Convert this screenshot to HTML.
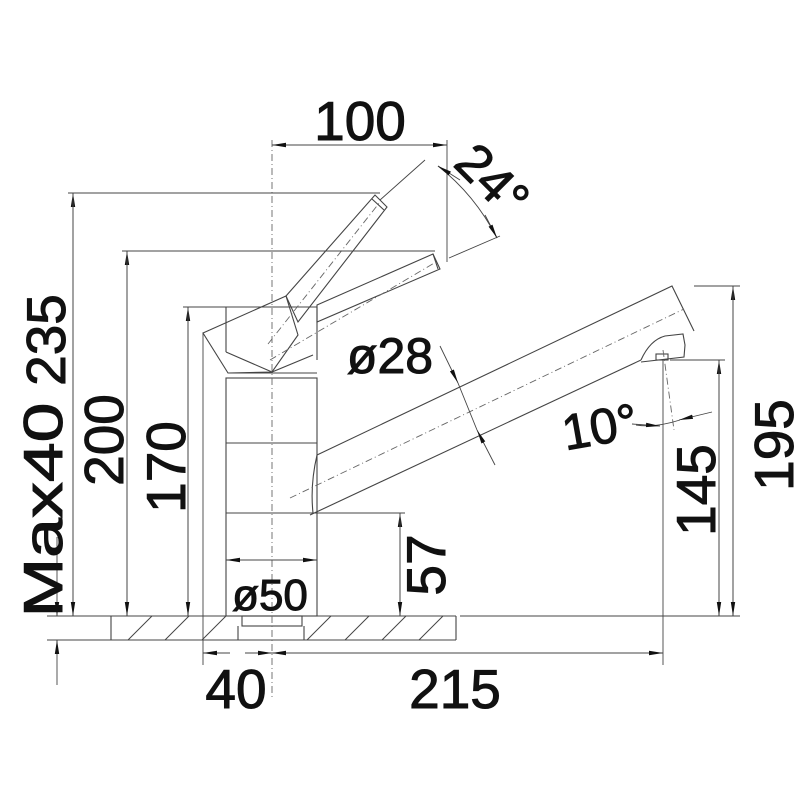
<!DOCTYPE html>
<html><head><meta charset="utf-8"><style>
html,body{margin:0;padding:0;background:#fff;width:800px;height:800px;overflow:hidden}
text{font-family:"Liberation Sans",sans-serif;fill:#111}
</style></head><body>
<svg width="800" height="800" viewBox="0 0 800 800" xmlns="http://www.w3.org/2000/svg">
<defs>
<marker id="a" markerWidth="14" markerHeight="6" refX="14" refY="3" orient="auto" markerUnits="userSpaceOnUse"><path d="M0,0.8 L14,3 L0,5.2 Z" fill="#111"/></marker>
</defs>
<g stroke="#444" stroke-width="1.1" fill="none">
<line x1="47" y1="616" x2="456" y2="616"/>
<line x1="460" y1="616" x2="740" y2="616"/>
<line x1="47" y1="640" x2="456" y2="640"/>
<line x1="456" y1="616" x2="456" y2="640"/>
<line x1="111" y1="616" x2="111" y2="640"/>
<line x1="238" y1="626" x2="238" y2="640"/>
<line x1="304" y1="626" x2="304" y2="640"/>
<rect x="242" y="616" width="60" height="10"/>
<g stroke-width="1">
<line x1="128" y1="640" x2="152" y2="616"/><line x1="165" y1="640" x2="189" y2="616"/>
<line x1="202" y1="640" x2="226" y2="616"/><line x1="307" y1="640" x2="331" y2="616"/>
<line x1="345" y1="640" x2="369" y2="616"/><line x1="382" y1="640" x2="406" y2="616"/>
<line x1="419" y1="640" x2="443" y2="616"/>
</g>
<rect x="226" y="378" width="91" height="238"/>
<line x1="226" y1="443" x2="317" y2="443"/>
<line x1="226" y1="513" x2="317" y2="513"/>
<line x1="226" y1="307" x2="317" y2="307"/>
<line x1="226" y1="307" x2="226" y2="352"/>
<line x1="317" y1="307" x2="317" y2="360"/>
<polyline points="226,352 272,372 313,355"/>
<line x1="228" y1="373" x2="317" y2="373"/>
<polygon points="203,333 286,296 298,335 272,372 228,373"/>
<polygon points="286,296 375,195 387,207 298,322"/>
<line x1="372" y1="199" x2="384" y2="210"/>
<polygon points="317,305 433,254 440,269 317,322"/>
<line x1="433" y1="254" x2="438" y2="269" />
<path d="M317,455 L672,286 L694,331"/>
<path d="M310,515 L641,360"/>
<path d="M317,455 Q310,485 313,513"/>
<path d="M641,360 Q650,340 665,336 L683,334 L685,345 L684,357 L641,362"/>
<rect x="656" y="354" width="12" height="6"/>
</g>
<g stroke="#666" stroke-width="0.9" fill="none" stroke-dasharray="7,3,1,3">
<line x1="272" y1="140" x2="272" y2="700"/>
<line x1="268" y1="344" x2="380" y2="202"/>
<line x1="270" y1="360" x2="436" y2="262"/>
<line x1="290" y1="498" x2="684" y2="309"/>
<line x1="663" y1="350" x2="674" y2="430"/>
</g>
<g stroke="#444" stroke-width="0.9" fill="none">
<line x1="68" y1="193" x2="380" y2="193"/>
<line x1="122" y1="251" x2="435" y2="251"/>
<line x1="183" y1="307" x2="226" y2="307"/>
<line x1="203" y1="333" x2="203" y2="665"/>
<line x1="447" y1="140" x2="447" y2="262"/>
<line x1="425" y1="160" x2="380" y2="200"/>
<line x1="449" y1="258" x2="500" y2="236"/>
<line x1="694" y1="286" x2="740" y2="286"/>
<line x1="670" y1="360" x2="725" y2="360"/>
<line x1="663" y1="360" x2="663" y2="665"/>
<line x1="317" y1="513" x2="405" y2="513"/>
<line x1="57" y1="537" x2="57" y2="616" marker-end="url(#a)"/>
<line x1="57" y1="685" x2="57" y2="640" marker-end="url(#a)"/>
<line x1="73" y1="616" x2="73" y2="193" marker-end="url(#a)"/>
<line x1="73" y1="193" x2="73" y2="616" marker-end="url(#a)"/>
<line x1="127" y1="616" x2="127" y2="251" marker-end="url(#a)"/>
<line x1="127" y1="251" x2="127" y2="616" marker-end="url(#a)"/>
<line x1="188" y1="616" x2="188" y2="307" marker-end="url(#a)"/>
<line x1="188" y1="307" x2="188" y2="616" marker-end="url(#a)"/>
<line x1="400" y1="616" x2="400" y2="513" marker-end="url(#a)"/>
<line x1="400" y1="513" x2="400" y2="616" marker-end="url(#a)"/>
<line x1="272" y1="560" x2="226" y2="560" marker-end="url(#a)"/>
<line x1="272" y1="560" x2="317" y2="560" marker-end="url(#a)"/>
<line x1="360" y1="145" x2="272" y2="145" marker-end="url(#a)"/>
<line x1="360" y1="145" x2="447" y2="145" marker-end="url(#a)"/>
<line x1="719" y1="616" x2="719" y2="360" marker-end="url(#a)"/>
<line x1="719" y1="360" x2="719" y2="616" marker-end="url(#a)"/>
<line x1="733" y1="616" x2="733" y2="286" marker-end="url(#a)"/>
<line x1="733" y1="286" x2="733" y2="616" marker-end="url(#a)"/>
<line x1="230" y1="653" x2="203" y2="653" marker-end="url(#a)"/>
<line x1="245" y1="653" x2="272" y2="653" marker-end="url(#a)"/>
<line x1="300" y1="653" x2="272" y2="653" marker-end="url(#a)"/>
<line x1="300" y1="653" x2="663" y2="653" marker-end="url(#a)"/>
<path d="M438,166 Q475,195 497,238"/>
<line x1="460" y1="180" x2="438" y2="166" marker-end="url(#a)"/>
<line x1="485" y1="215" x2="497" y2="238" marker-end="url(#a)"/>
<line x1="440" y1="346" x2="458" y2="383" marker-end="url(#a)"/>
<line x1="495" y1="465" x2="477" y2="430" marker-end="url(#a)"/>
<line x1="458" y1="383" x2="477" y2="430"/>
<path d="M636,425 Q655,428 680,420"/>
<line x1="632" y1="424" x2="660" y2="426" marker-end="url(#a)"/>
<line x1="712" y1="412" x2="679" y2="420" marker-end="url(#a)"/>
</g>
<g font-size="55" stroke="#111" stroke-width="1">
<text x="360" y="140" text-anchor="middle">100</text>
<text transform="translate(452,165) rotate(45)" font-size="52">24°</text>
<text x="390" y="373" text-anchor="middle" font-size="50">ø28</text>
<text x="600" y="444" text-anchor="middle" font-size="50" transform="rotate(-10 600 428)">10°</text>
<text x="270" y="610" text-anchor="middle" font-size="44">ø50</text>
<text x="236" y="708" text-anchor="middle">40</text>
<text x="455" y="708" text-anchor="middle">215</text>
<text transform="translate(65,340) rotate(-90)" text-anchor="middle">235</text>
<text transform="translate(123,440) rotate(-90)" text-anchor="middle">200</text>
<text transform="translate(185,467) rotate(-90)" text-anchor="middle">170</text>
<text transform="translate(62,510) rotate(-90)" text-anchor="middle" textLength="215" lengthAdjust="spacingAndGlyphs">Max40</text>
<text transform="translate(445,565) rotate(-90)" text-anchor="middle">57</text>
<text transform="translate(715,490) rotate(-90)" text-anchor="middle">145</text>
<text transform="translate(793,445) rotate(-90)" text-anchor="middle">195</text>
</g>
</svg>
</body></html>
